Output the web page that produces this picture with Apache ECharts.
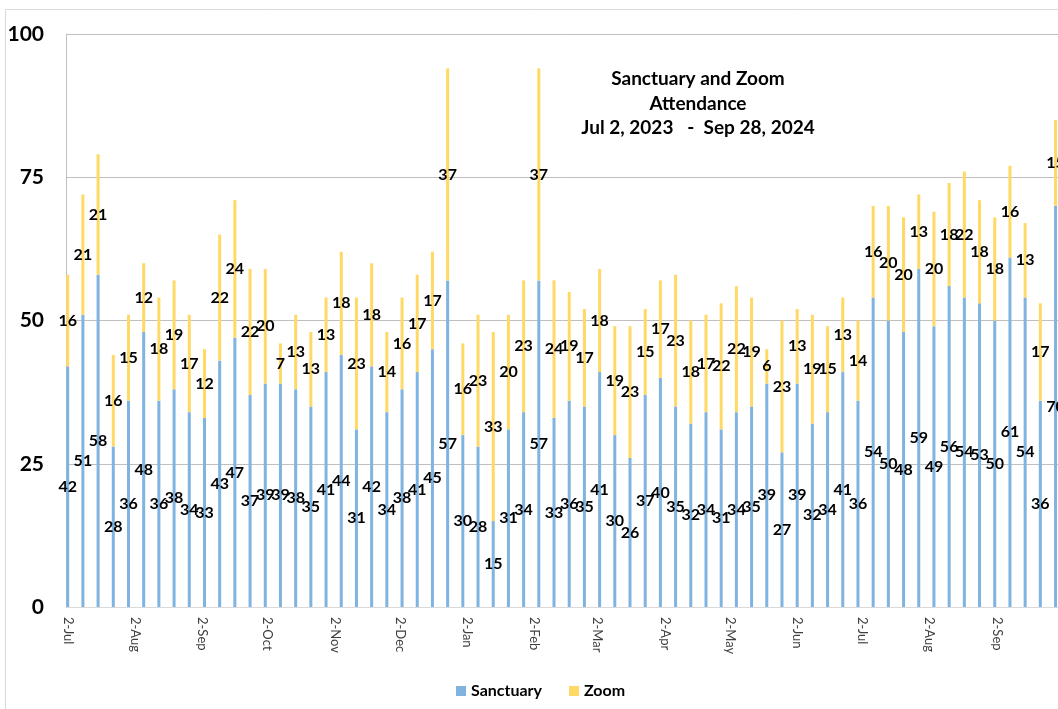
<!DOCTYPE html>
<html>
<head>
<meta charset="utf-8">
<script src="https://cdn.jsdelivr.net/npm/echarts@6/dist/echarts.min.js"></script>
<style>
  html, body { margin: 0; padding: 0; background: #fff; }
  #chart { width: 1058px; height: 709px; }
</style>
</head>
<body>
<div id="chart"></div>
<script>
// weekly services, first one on Jul 2 2023
const firstWeek = [2023, 6, 2];
const sanctuary = [42, 51, 58, 28, 36, 48, 36, 38, 34, 33,
  43, 47, 37, 39, 39, 38, 35, 41, 44, 31,
  42, 34, 38, 41, 45, 57, 30, 28, 15, 31,
  34, 57, 33, 36, 35, 41, 30, 26, 37, 40,
  35, 32, 34, 31, 34, 35, 39, 27, 39, 32,
  34, 41, 36, 54, 50, 48, 59, 49, 56, 54,
  53, 50, 61, 54, 36, 70];
const zoom = [16, 21, 21, 16, 15, 12, 18, 19, 17, 12,
  22, 24, 22, 20, 7, 13, 13, 13, 18, 23,
  18, 14, 16, 17, 17, 37, 16, 23, 33, 20,
  23, 37, 24, 19, 17, 18, 19, 23, 15, 17,
  23, 18, 17, 22, 22, 19, 6, 23, 13, 19,
  15, 13, 14, 16, 20, 20, 13, 20, 18, 22,
  18, 18, 16, 13, 17, 15];
const tickDates = ['2023-07-02', '2023-08-02', '2023-09-02', '2023-10-02', '2023-11-02',
  '2023-12-02', '2024-01-02', '2024-02-02', '2024-03-02', '2024-04-02',
  '2024-05-02', '2024-06-02', '2024-07-02', '2024-08-02', '2024-09-02'];
const monthNames = ['Jan', 'Feb', 'Mar', 'Apr', 'May', 'Jun', 'Jul', 'Aug', 'Sep', 'Oct', 'Nov', 'Dec'];

const DAY = 24 * 3600 * 1000;
const start = Date.UTC(firstWeek[0], firstWeek[1], firstWeek[2]);
const weeks = sanctuary.map((v, i) => start + i * 7 * DAY);
const ticks = tickDates.map(s => Date.parse(s + 'T00:00:00Z'));

const chart = echarts.init(document.getElementById('chart'));
const font = 'Lato, "Open Sans", sans-serif';
const lbl = {
  show: true, position: 'inside', color: '#000', fontWeight: 'bold', fontSize: 16, fontFamily: font,
  formatter: p => p.value[0]
};

chart.setOption({
  animation: false,
  title: {
    text: 'Sanctuary and Zoom\nAttendance\nJul 2, 2023   -  Sep 28, 2024',
    left: 698,
    top: 67,
    padding: 0,
    textAlign: 'center',
    textStyle: { fontSize: 19, fontWeight: 'bold', color: '#000', fontFamily: font, lineHeight: 24.5 }
  },
  legend: {
    left: 451,
    top: 678,
    icon: 'rect',
    itemWidth: 10,
    itemHeight: 10,
    itemGap: 27,
    textStyle: { fontSize: 16, fontWeight: 'bold', color: '#000', fontFamily: font }
  },
  graphic: [{
    type: 'rect',
    shape: { x: 5.5, y: 9.5, width: 1100, height: 800 },
    style: { fill: 'none', stroke: '#d9d9d9', lineWidth: 1 },
    silent: true
  }],
  grid: { left: 66, top: 34, right: -8, bottom: 102, outerBoundsMode: 'none' },
  xAxis: {
    type: 'value',
    min: start - 0.78 * DAY,
    max: start - 0.78 * DAY + 460.6 * DAY,
    axisLine: { lineStyle: { color: '#d9d9d9' } },
    axisTick: { show: false },
    splitLine: { show: false },
    axisLabel: {
      customValues: ticks,
      rotate: -90,
      margin: 10,
      color: '#404040',
      fontSize: 13,
      fontFamily: font,
      formatter: v => {
        const d = new Date(v);
        return d.getUTCDate() + '-' + monthNames[d.getUTCMonth()];
      }
    }
  },
  yAxis: {
    type: 'value',
    min: 0,
    max: 100,
    interval: 25,
    axisLine: { show: true, lineStyle: { color: '#bfbfbf' } },
    axisTick: { show: false },
    splitLine: { lineStyle: { color: '#bfbfbf' } },
    axisLabel: { margin: 22, color: '#000', fontSize: 21, fontWeight: 'bold', fontFamily: font }
  },
  series: [
    {
      name: 'Sanctuary',
      type: 'bar',
      stack: 'total',
      barWidth: 3,
      itemStyle: { color: '#7fb3e0' },
      label: lbl,
      encode: { x: 1, y: 0 },
      data: weeks.map((t, i) => [sanctuary[i], t])
    },
    {
      name: 'Zoom',
      type: 'bar',
      stack: 'total',
      barWidth: 3,
      itemStyle: { color: '#ffd966' },
      label: lbl,
      encode: { x: 1, y: 0 },
      data: weeks.map((t, i) => [zoom[i], t])
    }
  ]
});
</script>
</body>
</html>
